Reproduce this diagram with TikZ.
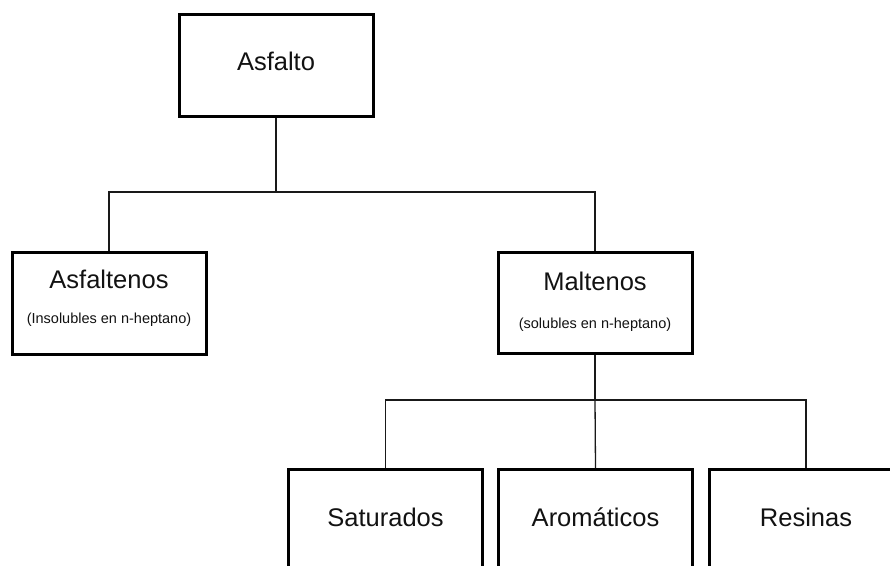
\documentclass[tikz,border=0pt]{standalone}
\usepackage{fontspec}
\setmainfont{Liberation Sans}
\begin{document}
\begin{tikzpicture}[x=1pt,y=-1pt,
  box/.style={draw=black,line width=3pt,rectangle,inner sep=0pt,minimum width=194pt,fill=white},
  title/.style={font=\fontsize{25.5}{30}\selectfont,text=black!93,inner sep=0pt},
  sub/.style={font=\fontsize{14.5}{17}\selectfont,text=black!93,inner sep=0pt},
  link/.style={draw=black!90,line width=1.3pt}]
\useasboundingbox (0,0) rectangle (890,565);
\clip (0,0) rectangle (890,565);
\fill[white] (0,0) rectangle (890,565);
% boxes
\node[box,minimum height=102pt] (asfalto) at (276,65) {};
\node[box,minimum height=102pt] (asfaltenos) at (109,303) {};
\node[box,minimum height=101pt] (maltenos) at (595,302.5) {};
\node[box,minimum height=160pt,anchor=north] (saturados) at (385.5,468) {};
\node[box,minimum height=160pt,anchor=north] (aromaticos) at (595.5,468) {};
\node[box,minimum height=160pt,anchor=north] (resinas) at (806,468) {};
% texts
\node[title] (tA) at (276,61) {Asfalto};
\node[title] (tB) at (109,279) {Asfaltenos};
\node[sub] (sB) at (109,320) {(Insolubles en n-heptano)};
\node[title] (tC) at (595,281) {Maltenos};
\node[sub] (sC) at (595,325) {(solubles en n-heptano)};
\node[title] (tD) at (385.5,517) {Saturados};
\node[title] (tE) at (595.5,517) {Aromáticos};
\node[title] (tF) at (806,517) {Resinas};
% connectors
\coordinate (j1) at (276,192);
\coordinate (j2) at (595,400);
\draw[link] (asfalto.south) -- (j1);
\draw[link] (j1) -| (asfaltenos.north);
\draw[link] (j1) -| (maltenos.north);
\draw[link] (maltenos.south) -- (j2);
\draw[link] (j2) -| (saturados.north);
\draw[link] (j2) -- (aromaticos.north);
\draw[link] (j2) -| (resinas.north);
\end{tikzpicture}
\end{document}
